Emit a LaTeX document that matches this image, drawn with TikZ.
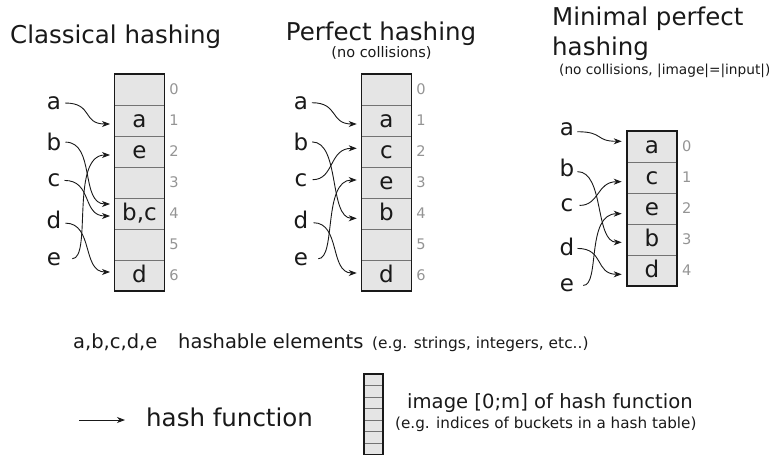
\documentclass[tikz,border=0pt]{standalone}
\usepackage{fontspec}
\setmainfont{DejaVu Sans}
\usetikzlibrary{arrows.meta}
\definecolor{ink}{gray}{0.1}
\definecolor{idxgray}{gray}{0.58}
\definecolor{cellfill}{gray}{0.9}
\newcommand\myfs[1]{\fontsize{#1pt}{#1pt}\selectfont}
\begin{document}
\begin{tikzpicture}[x=1pt,y=-1pt,
  cell/.style={draw=black!55, line width=0.8pt, fill=cellfill, minimum width=50pt, minimum height=31pt, inner sep=0pt, outer sep=0pt},
  minicell/.style={draw=black!55, line width=0.8pt, fill=cellfill, minimum width=19pt, minimum height=11.5pt, inner sep=0pt, outer sep=0pt},
  outer/.style={draw=ink, line width=1.5pt},
  ctxt/.style={font=\myfs{23}, text=ink, inner sep=0pt, anchor=base},
  idx/.style={font=\myfs{14.6}, text=idxgray, inner sep=0pt, anchor=base},
  elem/.style={font=\myfs{23}, text=ink, inner sep=0pt, anchor=base},
  hash/.style={draw=ink, line width=0.9pt, -{Stealth[length=8pt,width=6pt,inset=2.5pt]}},
  title/.style={font=\myfs{24.5}, text=ink, inner sep=0pt},
  sub/.style={font=\myfs{14.5}, text=ink, inner sep=0pt},
  legend/.style={text=ink, inner sep=0pt, anchor=base west},
  ]
\useasboundingbox (0,0) rectangle (769,455);

% ---------- titles ----------
\node[title, anchor=base west] (title1) at (10,43) {Classical hashing};
\node[title, anchor=base] (title2) at (381,40.5) {Perfect hashing};
\node[sub, anchor=base] (sub2) at (381.5,57.8) {(no collisions)};
\node[title, anchor=base west] (title3a) at (552,25) {Minimal perfect};
\node[title, anchor=base west] (title3b) at (552,55) {hashing};
\node[sub, anchor=base west, font=\myfs{13.7}] (sub3) at (559,74) {(no collisions, |image|=|input|)};

% ---------- table 1 ----------
\foreach \t [count=\i from 0] in {{},a,e,{},{b,c},{},d} {
  \node[cell] (t1c\i) at (139.5,{89.5+31*\i}) {};
  \node[ctxt] (t1l\i) at ([yshift=-7pt]t1c\i.center) {\t};
  \node[idx] (t1n\i) at ([xshift=34.5pt,yshift=-5.3pt]t1c\i.center) {\i};
}
\draw[outer] (t1c0.north west) rectangle (t1c6.south east);

\node[elem] (a1) at (54,109.3) {a};
\node[elem] (b1) at (54,150.7) {b};
\node[elem] (c1) at (54,186.7) {c};
\node[elem] (d1) at (54,228.3) {d};
\node[elem] (e1) at (54,265) {e};

\draw[hash] ([xshift=4pt]a1.east) .. controls +(28,0) and +(-28,0) .. ([xshift=-4.5pt,yshift=-3.5pt]t1c1.west);
\draw[hash] ([xshift=4pt]b1.east) .. controls +(30,0) and +(-30,0) .. ([xshift=-4.5pt,yshift=9.5pt]t1c4.west);
\draw[hash] ([xshift=4pt]c1.east) .. controls +(28,0) and +(-28,0) .. ([xshift=-4.5pt,yshift=-2.5pt]t1c4.west);
\draw[hash] ([xshift=4pt,yshift=-3.4pt]d1.east) .. controls +(28,0) and +(-28,0) .. ([xshift=-4.5pt,yshift=3.5pt]t1c6.west);
\draw[hash] ([xshift=11pt]e1.east) .. controls +(20,0) and +(-40,0) .. ([xshift=-4.5pt,yshift=-3.5pt]t1c2.west);

% ---------- table 2 ----------
\foreach \t [count=\i from 0] in {{},a,c,e,b,{},d} {
  \node[cell] (t2c\i) at (386.5,{89.5+31*\i}) {};
  \node[ctxt] (t2l\i) at ([yshift=-7pt]t2c\i.center) {\t};
  \node[idx] (t2n\i) at ([xshift=34.5pt,yshift=-5.3pt]t2c\i.center) {\i};
}
\draw[outer] (t2c0.north west) rectangle (t2c6.south east);

\node[elem] (a2) at (301,109) {a};
\node[elem] (b2) at (301,150.5) {b};
\node[elem] (c2) at (301,186) {c};
\node[elem] (d2) at (301,228.3) {d};
\node[elem] (e2) at (301,265) {e};

\draw[hash] ([xshift=3.7pt]a2.east) .. controls +(27,0) and +(-27,0) .. ([xshift=-4.8pt,yshift=-3.5pt]t2c1.west);
\draw[hash] ([xshift=3.7pt]b2.east) .. controls +(28,0) and +(-28,0) .. ([xshift=-4.8pt,yshift=-4.8pt]t2c4.west);
\draw[hash] ([xshift=5pt]c2.east) .. controls +(22,0) and +(-28,0) .. ([xshift=-4.8pt,yshift=3.2pt]t2c2.west);
\draw[hash] ([xshift=5pt,yshift=-3pt]d2.east) .. controls +(27,0) and +(-27,0) .. ([xshift=-4.8pt,yshift=2.5pt]t2c6.west);
\draw[hash] ([xshift=10pt]e2.east) .. controls +(18,0) and +(-34,0) .. ([xshift=-4.8pt,yshift=2.5pt]t2c3.west);

% ---------- table 3 ----------
\foreach \t [count=\i from 0] in {a,c,e,b,d} {
  \node[cell] (t3c\i) at (652,{146.5+31*\i}) {};
  \node[ctxt] (t3l\i) at ([yshift=-7pt]t3c\i.center) {\t};
  \node[idx] (t3n\i) at ([xshift=34.7pt,yshift=-5.3pt]t3c\i.center) {\i};
}
\draw[outer] (t3c0.north west) rectangle (t3c4.south east);

\node[elem] (a3) at (567,135) {a};
\node[elem] (b3) at (567,176.7) {b};
\node[elem] (c3) at (567,211.7) {c};
\node[elem] (d3) at (567,255) {d};
\node[elem] (e3) at (567,291.7) {e};

\draw[hash] ([xshift=3pt,yshift=-3pt]a3.east) .. controls +(27,0) and +(-27,0) .. ([xshift=-5.3pt,yshift=5.2pt]t3c0.west);
\draw[hash] ([xshift=3pt,yshift=-3.5pt]b3.east) .. controls +(27,0) and +(-27,0) .. ([xshift=-5.3pt,yshift=-2.8pt]t3c3.west);
\draw[hash] ([xshift=6pt]c3.east) .. controls +(20,0) and +(-25,0) .. ([xshift=-5.3pt,yshift=-4.2pt]t3c1.west);
\draw[hash] ([xshift=3pt,yshift=-2pt]d3.east) .. controls +(27,0) and +(-27,0) .. ([xshift=-5.3pt,yshift=-3.8pt]t3c4.west);
\draw[hash] ([xshift=9pt]e3.east) .. controls +(17,0) and +(-36,0) .. ([xshift=-5.3pt,yshift=-5.2pt]t3c2.west);

% ---------- legend ----------
\node[legend, font=\myfs{19.5}] (l1) at (73,348) {a,b,c,d,e};
\node[legend, font=\myfs{19.5}] (l2) at (178,348) {hashable elements};
\node[legend, font=\myfs{15.4}] (l3) at (372,348) {(e.g. strings, integers, etc..)};

\coordinate (la0) at (79,420);
\coordinate (la1) at (125,420);
\draw[hash] (la0) -- (la1);
\node[legend, font=\myfs{24.5}] (l4) at (146,426) {hash function};

\foreach \i in {0,...,6} {
  \node[minicell] (mc\i) at (373.5,{379.75+11.5*\i}) {};
}
\draw[outer] (mc0.north west) rectangle (mc6.south east);
\node[legend, font=\myfs{19.6}] (l5) at (407,408) {image [0;m] of hash function};
\node[legend, font=\myfs{15.2}] (l6) at (395,428) {(e.g. indices of buckets in a hash table)};
\end{tikzpicture}
\end{document}
